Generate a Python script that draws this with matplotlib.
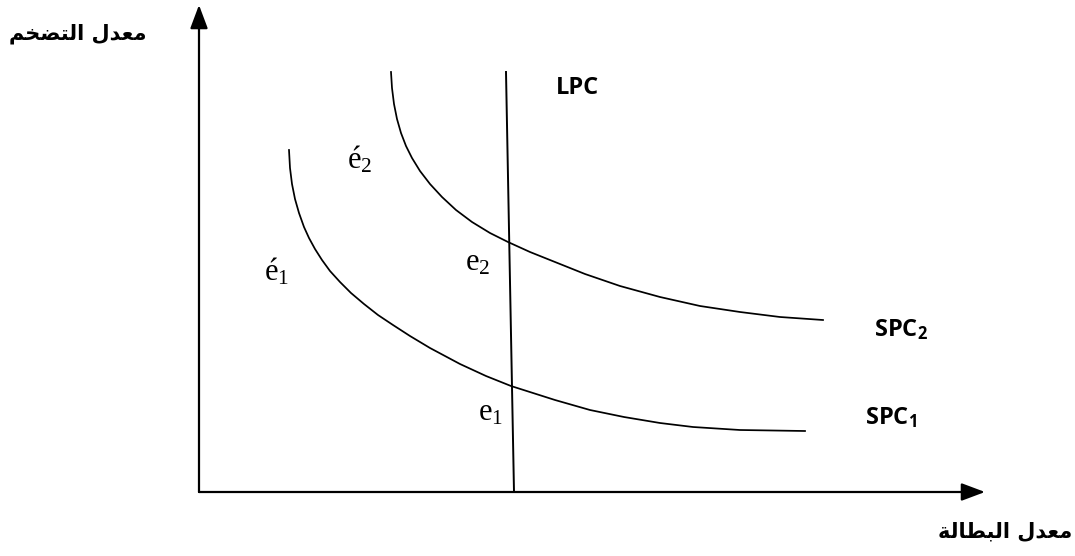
import matplotlib.pyplot as plt

# points (pixel coords, y grows downward)
spc2_x = [391, 392, 394, 397, 401, 406, 412, 420, 430, 442, 456, 472, 490, 508,
          530, 555, 585, 620, 660, 700, 740, 780, 823]
spc2_y = [72, 88, 104, 119, 133, 146, 158, 171, 184, 197, 210, 222, 233, 242,
          252, 262, 274, 286, 297, 306, 312, 317, 320]

spc1_x = [289, 290, 292, 295, 299, 304, 309, 315, 322, 330, 340, 351, 364, 378,
          393, 410, 430, 460, 486, 511, 555, 590, 624, 660, 693, 740, 805]
spc1_y = [150, 168, 184, 199, 213, 227, 238, 249, 260, 271, 282, 293, 304, 315,
          325, 336, 348, 364, 376, 386, 400, 410, 417, 423, 427, 430, 431]

lpc_x = [506, 514]
lpc_y = [72, 492]

origin = (199, 492)
x_end = 985
y_end = 5

# arabic labels, shaped by hand (presentation forms, visual order)
inflation = "\uFEE2\uFEA8\uFEC0\uFE98\uFEDF\uFE8D \uFEDD\uFEAA\uFECC\uFEE3"   # معدل التضخم
unemployment = "\uFE94\uFEDF\uFE8E\uFEC4\uFE92\uFEDF\uFE8D \uFEDD\uFEAA\uFECC\uFEE3"  # معدل البطالة

fig = plt.figure(figsize=(10.75, 5.56), dpi=100)
ax = fig.add_axes([0, 0, 1, 1])
ax.set_xlim(0, 1075)
ax.set_ylim(556, 0)
ax.axis("off")

# axes with arrows
arrow = dict(arrowstyle="-|>,head_length=1.2,head_width=0.45", color="black",
             lw=1.6, shrinkA=0, shrinkB=0, mutation_scale=12)
ax.annotate("", xy=(x_end, origin[1]), xytext=origin, arrowprops=arrow)
ax.annotate("", xy=(origin[0], y_end), xytext=origin, arrowprops=arrow)

ax.plot(spc2_x, spc2_y, color="black", lw=1.25, solid_joinstyle="round")
ax.plot(spc1_x, spc1_y, color="black", lw=1.25, solid_joinstyle="round")
ax.plot(lpc_x, lpc_y, color="black", lw=1.4)

sans = dict(family="Open Sans", fontweight="bold", fontsize=17)
ax.text(577, 88, "LPC", ha="center", va="center", **sans)
ax.text(874, 330, r"SPC$\mathregular{_2}$", ha="left", va="center", **sans)
ax.text(865, 418, r"SPC$\mathregular{_1}$", ha="left", va="center", **sans)

serif = dict(family="Liberation Serif", fontsize=22)
ax.text(347, 160, r"é$\mathregular{_2}$", ha="left", va="center", **serif)
ax.text(264, 272, r"é$\mathregular{_1}$", ha="left", va="center", **serif)
ax.text(465, 263, r"e$\mathregular{_2}$", ha="left", va="center", **serif)
ax.text(478, 413, r"e$\mathregular{_1}$", ha="left", va="center", **serif)

ax.text(78, 34, inflation, ha="center", va="center", family="DejaVu Sans",
        fontweight="bold", fontsize=15)
ax.text(1005, 531, unemployment, ha="center", va="center", family="DejaVu Sans",
        fontweight="bold", fontsize=15)

fig.savefig("out.png", dpi=100)
